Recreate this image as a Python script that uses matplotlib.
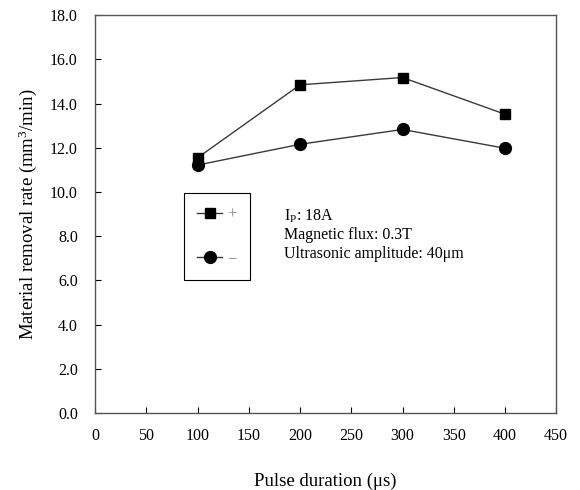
import numpy as np
import matplotlib.pyplot as plt

plt.rcParams['font.family'] = ['Liberation Serif', 'DejaVu Serif']
plt.rcParams['mathtext.fontset'] = 'custom'
plt.rcParams['mathtext.rm'] = 'Liberation Serif'
plt.rcParams['mathtext.it'] = 'Liberation Serif:italic'

pulse = [100, 200, 300, 400]
mrr_plus = [11.55, 14.85, 15.18, 13.52]
mrr_minus = [11.22, 12.16, 12.83, 11.98]
xticks = np.arange(0, 451, 50)
yticks = np.arange(0, 18.1, 2)

fig = plt.figure(figsize=(5.8, 4.9), dpi=100)
ax = fig.add_axes([0.164, 0.157, 0.795, 0.812])

ax.plot(pulse, mrr_plus, color='#3a3a3a', lw=1.0, marker='s', ms=7.5,
        mfc='black', mec='black', label='+')
ax.plot(pulse, mrr_minus, color='#3a3a3a', lw=1.0, marker='o', ms=8.5,
        mfc='black', mec='black', label='\u2212')

ax.set_xlim(0, 450)
ax.set_ylim(0, 18)
ax.set_xticks(xticks)
ax.set_yticks(yticks)
ax.set_yticklabels([f'{v:.1f}' for v in yticks])
ax.tick_params(direction='in', length=4, labelsize=11.5)
ax.tick_params(axis='x', pad=10.5)
ax.tick_params(axis='y', pad=12.5)
for s in ax.spines.values():
    s.set_color('#555555')
    s.set_linewidth(1.0)

ax.set_xlabel('Pulse duration (\u03bcs)', fontsize=13.5, labelpad=21)
ax.set_ylabel('Material removal rate (mm$^3$/min)', fontsize=13.5, labelpad=8)

leg = ax.legend(loc='upper left', bbox_to_anchor=(0.193, 0.553), fancybox=False,
                edgecolor='black', framealpha=1, fontsize=12, handlelength=1.5,
                handletextpad=0.3, labelspacing=1.7, borderpad=0.8,
                borderaxespad=0)
leg.get_frame().set_linewidth(0.8)
for t in leg.get_texts():
    t.set_color('#888888')

ax.text(0.41, 0.517, 'I$_\\mathrm{P}$: 18A\nMagnetic flux: 0.3T\nUltrasonic amplitude: 40\u03bcm',
        transform=ax.transAxes, fontsize=11.5, va='top', linespacing=1.2)

fig.savefig('out.png', dpi=100)
